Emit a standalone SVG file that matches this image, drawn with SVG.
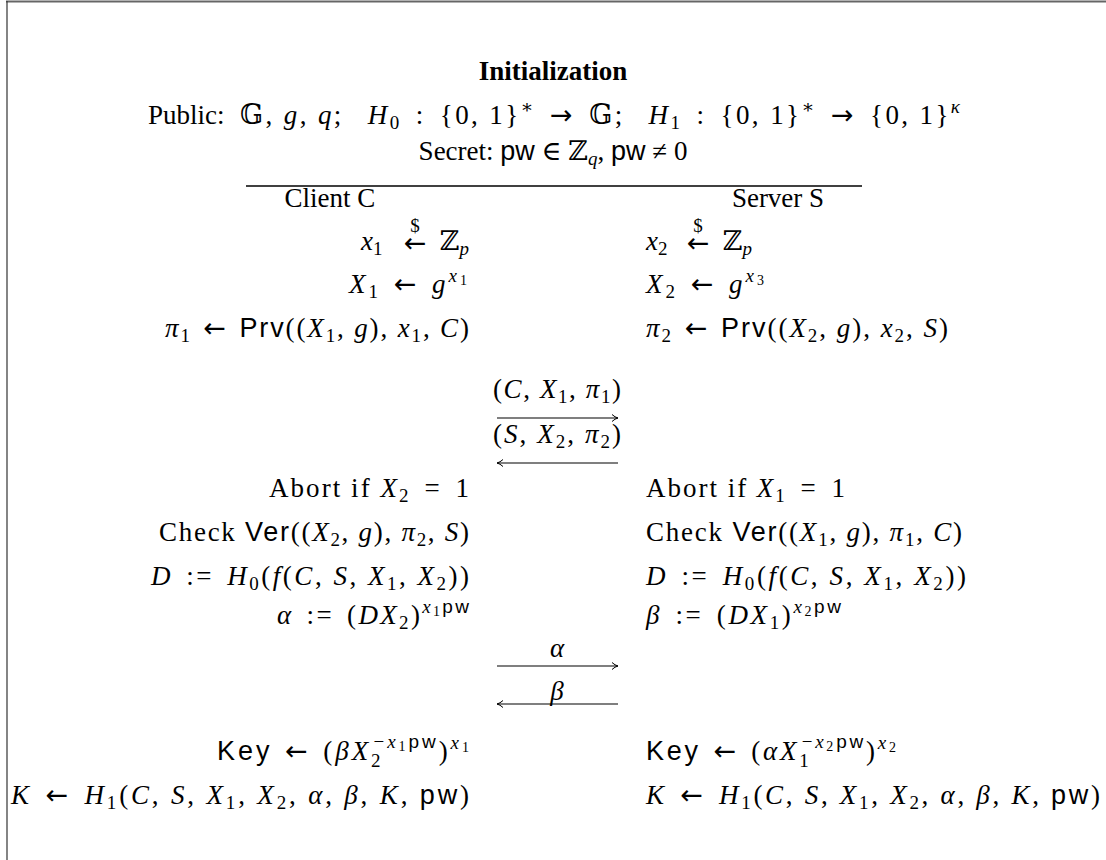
<svg xmlns="http://www.w3.org/2000/svg" width="1106" height="860" viewBox="0 0 1106 860">
<style>
.t{font-family:"Liberation Serif","DejaVu Serif",serif;font-size:27px;fill:#000}
.i{font-style:italic}
.b{font-weight:bold}
.sf{font-family:"Liberation Sans","DejaVu Sans",sans-serif;font-style:normal}
.ar{font-family:"DejaVu Sans",sans-serif;font-style:normal;font-weight:normal}
.s{font-size:19px}
.ss{font-size:14px}
.dl{font-family:"Liberation Serif","DejaVu Serif",serif;font-size:19px;fill:#000}
.ln{stroke:#000;stroke-width:1.1;fill:none}
</style>
<defs>
<marker id="ah" markerWidth="10" markerHeight="10" refX="9" refY="5" orient="auto" markerUnits="userSpaceOnUse">
<path d="M3,1.5 Q6,4.3 9,5 Q6,5.7 3,8.5" fill="none" stroke="#000" stroke-width="1"/>
</marker>
</defs>
<rect width="1106" height="860" fill="#fff"/>
<g id="frame">
<line x1="6" y1="1.5" x2="1106" y2="1.5" stroke="#666" stroke-width="2"/>
<line x1="7" y1="1" x2="7" y2="860" stroke="#333" stroke-width="1.2"/>
</g>
<g id="header">
<text class="t b" x="553" y="80" text-anchor="middle">Initialization</text>
<text class="t" x="148" y="124">Public:</text>
<text class="t" x="240" y="124" textLength="720" lengthAdjust="spacing">𝔾, <tspan class="i">g</tspan>, <tspan class="i">q</tspan>;<tspan dx="24" class="i">H</tspan><tspan class="s" dy="5">0</tspan><tspan dy="-5" dx="5"> : </tspan><tspan dx="5">{0, 1}</tspan><tspan class="s" dy="-11">∗</tspan><tspan dy="11" dx="5"> </tspan><tspan class="ar">→</tspan><tspan dx="5"> 𝔾;</tspan><tspan dx="24" class="i">H</tspan><tspan class="s" dy="5">1</tspan><tspan dy="-5" dx="5"> : </tspan><tspan dx="5">{0, 1}</tspan><tspan class="s" dy="-11">∗</tspan><tspan dy="11" dx="5"> </tspan><tspan class="ar">→</tspan><tspan dx="5"> {0, 1}</tspan><tspan class="s i" dy="-11">κ</tspan></text>
<text class="t" x="553" y="160" text-anchor="middle" font-size="25">Secret:  <tspan class="sf">pw</tspan> ∈ ℤ<tspan class="s i" dy="5">q</tspan><tspan dy="-5">, </tspan><tspan class="sf">pw</tspan> ≠ 0</text>
<line x1="246" y1="186" x2="862" y2="186" stroke="#000" stroke-width="1.3"/>
</g>
<g id="client">
<text class="t" x="330" y="207" text-anchor="middle">Client C</text>
<text class="t" x="361" y="250"><tspan class="i">x</tspan><tspan class="s" dy="5">1</tspan></text>
<text class="t ar" x="415" y="252" text-anchor="middle">←</text>
<text class="dl" x="415" y="232" text-anchor="middle">$</text>
<text class="t" x="469" y="250" text-anchor="end">ℤ<tspan class="s i" dy="5">p</tspan></text>
<text class="t" x="467" y="293" text-anchor="end" textLength="118" lengthAdjust="spacing"><tspan class="i">X</tspan><tspan class="s" dy="5">1</tspan><tspan dy="-5" dx="3"> </tspan><tspan class="ar">←</tspan><tspan dx="3"> </tspan><tspan class="i">g</tspan><tspan class="s i" dy="-11">x</tspan><tspan class="ss" dy="3">1</tspan></text>
<text class="t" x="469" y="337" text-anchor="end" textLength="304" lengthAdjust="spacing"><tspan class="i">π</tspan><tspan class="s" dy="5">1</tspan><tspan dy="-5" dx="3"> </tspan><tspan class="ar">←</tspan><tspan dx="3"> </tspan><tspan class="sf">Prv</tspan>((<tspan class="i">X</tspan><tspan class="s" dy="5">1</tspan><tspan dy="-5">, </tspan><tspan class="i">g</tspan>), <tspan class="i">x</tspan><tspan class="s" dy="5">1</tspan><tspan dy="-5">, </tspan><tspan class="i">C</tspan>)</text>
<text class="t" x="469" y="497" text-anchor="end" textLength="200" lengthAdjust="spacing">Abort if <tspan class="i">X</tspan><tspan class="s" dy="5">2</tspan><tspan dy="-5" dx="5"> = </tspan><tspan dx="5">1</tspan></text>
<text class="t" x="469" y="541" text-anchor="end" textLength="310" lengthAdjust="spacing">Check <tspan class="sf">Ver</tspan>((<tspan class="i">X</tspan><tspan class="s" dy="5">2</tspan><tspan dy="-5">, </tspan><tspan class="i">g</tspan>), <tspan class="i">π</tspan><tspan class="s" dy="5">2</tspan><tspan dy="-5">, </tspan><tspan class="i">S</tspan>)</text>
<text class="t" x="469" y="585" text-anchor="end" textLength="318" lengthAdjust="spacing"><tspan class="i">D</tspan><tspan dx="4"> := </tspan><tspan dx="4" class="i">H</tspan><tspan class="s" dy="5">0</tspan><tspan dy="-5">(</tspan><tspan class="i">f</tspan>(<tspan class="i">C</tspan>, <tspan class="i">S</tspan>, <tspan class="i">X</tspan><tspan class="s" dy="5">1</tspan><tspan dy="-5">, </tspan><tspan class="i">X</tspan><tspan class="s" dy="5">2</tspan><tspan dy="-5">))</tspan></text>
<text class="t" x="469" y="624" text-anchor="end" textLength="192" lengthAdjust="spacing"><tspan class="i">α</tspan><tspan dx="4"> := </tspan><tspan dx="4">(</tspan><tspan class="i">D</tspan><tspan class="i">X</tspan><tspan class="s" dy="5">2</tspan><tspan dy="-5">)</tspan><tspan class="s i" dy="-11">x</tspan><tspan class="ss" dy="3">1</tspan><tspan class="s sf" dy="-3">pw</tspan></text>
<text class="t" x="469" y="760" text-anchor="end" textLength="252" lengthAdjust="spacing"><tspan class="sf">Key</tspan><tspan dx="3"> </tspan><tspan class="ar">←</tspan><tspan dx="3"> (</tspan><tspan class="i">β</tspan><tspan class="i">X</tspan><tspan class="s" dy="7">2</tspan><tspan class="s" dx="-10" dy="-19">−</tspan><tspan class="s i">x</tspan><tspan class="ss" dy="3">1</tspan><tspan class="s sf" dy="-3">pw</tspan><tspan dy="12">)</tspan><tspan class="s i" dy="-11">x</tspan><tspan class="ss" dy="3">1</tspan></text>
<text class="t" x="469" y="804" text-anchor="end" textLength="458" lengthAdjust="spacing"><tspan class="i">K</tspan><tspan dx="4"> </tspan><tspan class="ar">←</tspan><tspan dx="4"> </tspan><tspan class="i">H</tspan><tspan class="s" dy="5">1</tspan><tspan dy="-5">(</tspan><tspan class="i">C</tspan>, <tspan class="i">S</tspan>, <tspan class="i">X</tspan><tspan class="s" dy="5">1</tspan><tspan dy="-5">, </tspan><tspan class="i">X</tspan><tspan class="s" dy="5">2</tspan><tspan dy="-5">, </tspan><tspan class="i">α</tspan>, <tspan class="i">β</tspan>, <tspan class="i">K</tspan>, <tspan class="sf">pw</tspan>)</text>
</g>
<g id="server">
<text class="t" x="778" y="207" text-anchor="middle">Server S</text>
<text class="t" x="646" y="250"><tspan class="i">x</tspan><tspan class="s" dy="5">2</tspan></text>
<text class="t ar" x="698" y="252" text-anchor="middle">←</text>
<text class="dl" x="698" y="232" text-anchor="middle">$</text>
<text class="t" x="752" y="250" text-anchor="end">ℤ<tspan class="s i" dy="5">p</tspan></text>
<text class="t" x="646" y="293" textLength="118" lengthAdjust="spacing"><tspan class="i">X</tspan><tspan class="s" dy="5">2</tspan><tspan dy="-5" dx="3"> </tspan><tspan class="ar">←</tspan><tspan dx="3"> </tspan><tspan class="i">g</tspan><tspan class="s i" dy="-11">x</tspan><tspan class="ss" dy="3">3</tspan></text>
<text class="t" x="646" y="337" textLength="302" lengthAdjust="spacing"><tspan class="i">π</tspan><tspan class="s" dy="5">2</tspan><tspan dy="-5" dx="3"> </tspan><tspan class="ar">←</tspan><tspan dx="3"> </tspan><tspan class="sf">Prv</tspan>((<tspan class="i">X</tspan><tspan class="s" dy="5">2</tspan><tspan dy="-5">, </tspan><tspan class="i">g</tspan>), <tspan class="i">x</tspan><tspan class="s" dy="5">2</tspan><tspan dy="-5">, </tspan><tspan class="i">S</tspan>)</text>
<text class="t" x="646" y="497" textLength="199" lengthAdjust="spacing">Abort if <tspan class="i">X</tspan><tspan class="s" dy="5">1</tspan><tspan dy="-5" dx="5"> = </tspan><tspan dx="5">1</tspan></text>
<text class="t" x="646" y="541" textLength="316" lengthAdjust="spacing">Check <tspan class="sf">Ver</tspan>((<tspan class="i">X</tspan><tspan class="s" dy="5">1</tspan><tspan dy="-5">, </tspan><tspan class="i">g</tspan>), <tspan class="i">π</tspan><tspan class="s" dy="5">1</tspan><tspan dy="-5">, </tspan><tspan class="i">C</tspan>)</text>
<text class="t" x="646" y="585" textLength="320" lengthAdjust="spacing"><tspan class="i">D</tspan><tspan dx="4"> := </tspan><tspan dx="4" class="i">H</tspan><tspan class="s" dy="5">0</tspan><tspan dy="-5">(</tspan><tspan class="i">f</tspan>(<tspan class="i">C</tspan>, <tspan class="i">S</tspan>, <tspan class="i">X</tspan><tspan class="s" dy="5">1</tspan><tspan dy="-5">, </tspan><tspan class="i">X</tspan><tspan class="s" dy="5">2</tspan><tspan dy="-5">))</tspan></text>
<text class="t" x="646" y="624" textLength="195" lengthAdjust="spacing"><tspan class="i">β</tspan><tspan dx="4"> := </tspan><tspan dx="4">(</tspan><tspan class="i">D</tspan><tspan class="i">X</tspan><tspan class="s" dy="5">1</tspan><tspan dy="-5">)</tspan><tspan class="s i" dy="-11">x</tspan><tspan class="ss" dy="3">2</tspan><tspan class="s sf" dy="-3">pw</tspan></text>
<text class="t" x="646" y="760" textLength="250" lengthAdjust="spacing"><tspan class="sf">Key</tspan><tspan dx="3"> </tspan><tspan class="ar">←</tspan><tspan dx="3"> (</tspan><tspan class="i">α</tspan><tspan class="i">X</tspan><tspan class="s" dy="7">1</tspan><tspan class="s" dx="-10" dy="-19">−</tspan><tspan class="s i">x</tspan><tspan class="ss" dy="3">2</tspan><tspan class="s sf" dy="-3">pw</tspan><tspan dy="12">)</tspan><tspan class="s i" dy="-11">x</tspan><tspan class="ss" dy="3">2</tspan></text>
<text class="t" x="646" y="804" textLength="454" lengthAdjust="spacing"><tspan class="i">K</tspan><tspan dx="4"> </tspan><tspan class="ar">←</tspan><tspan dx="4"> </tspan><tspan class="i">H</tspan><tspan class="s" dy="5">1</tspan><tspan dy="-5">(</tspan><tspan class="i">C</tspan>, <tspan class="i">S</tspan>, <tspan class="i">X</tspan><tspan class="s" dy="5">1</tspan><tspan dy="-5">, </tspan><tspan class="i">X</tspan><tspan class="s" dy="5">2</tspan><tspan dy="-5">, </tspan><tspan class="i">α</tspan>, <tspan class="i">β</tspan>, <tspan class="i">K</tspan>, <tspan class="sf">pw</tspan>)</text>
</g>
<g id="message-labels">
<text class="t" x="557" y="398" text-anchor="middle" textLength="128" lengthAdjust="spacing">(<tspan class="i">C</tspan>, <tspan class="i">X</tspan><tspan class="s" dy="5">1</tspan><tspan dy="-5">, </tspan><tspan class="i">π</tspan><tspan class="s" dy="5">1</tspan><tspan dy="-5">)</tspan></text>
<text class="t" x="557" y="443" text-anchor="middle" textLength="128" lengthAdjust="spacing">(<tspan class="i">S</tspan>, <tspan class="i">X</tspan><tspan class="s" dy="5">2</tspan><tspan dy="-5">, </tspan><tspan class="i">π</tspan><tspan class="s" dy="5">2</tspan><tspan dy="-5">)</tspan></text>
<text class="t i" x="557" y="657" text-anchor="middle">α</text>
<text class="t i" x="557" y="700" text-anchor="middle">β</text>
</g>
<g id="connectors">
<line class="ln" x1="497" y1="418" x2="618" y2="418" marker-end="url(#ah)"/>
<line class="ln" x1="618" y1="463" x2="497" y2="463" marker-end="url(#ah)"/>
<line class="ln" x1="497" y1="666" x2="618" y2="666" marker-end="url(#ah)"/>
<line class="ln" x1="618" y1="704" x2="497" y2="704" marker-end="url(#ah)"/>
</g>
</svg>
